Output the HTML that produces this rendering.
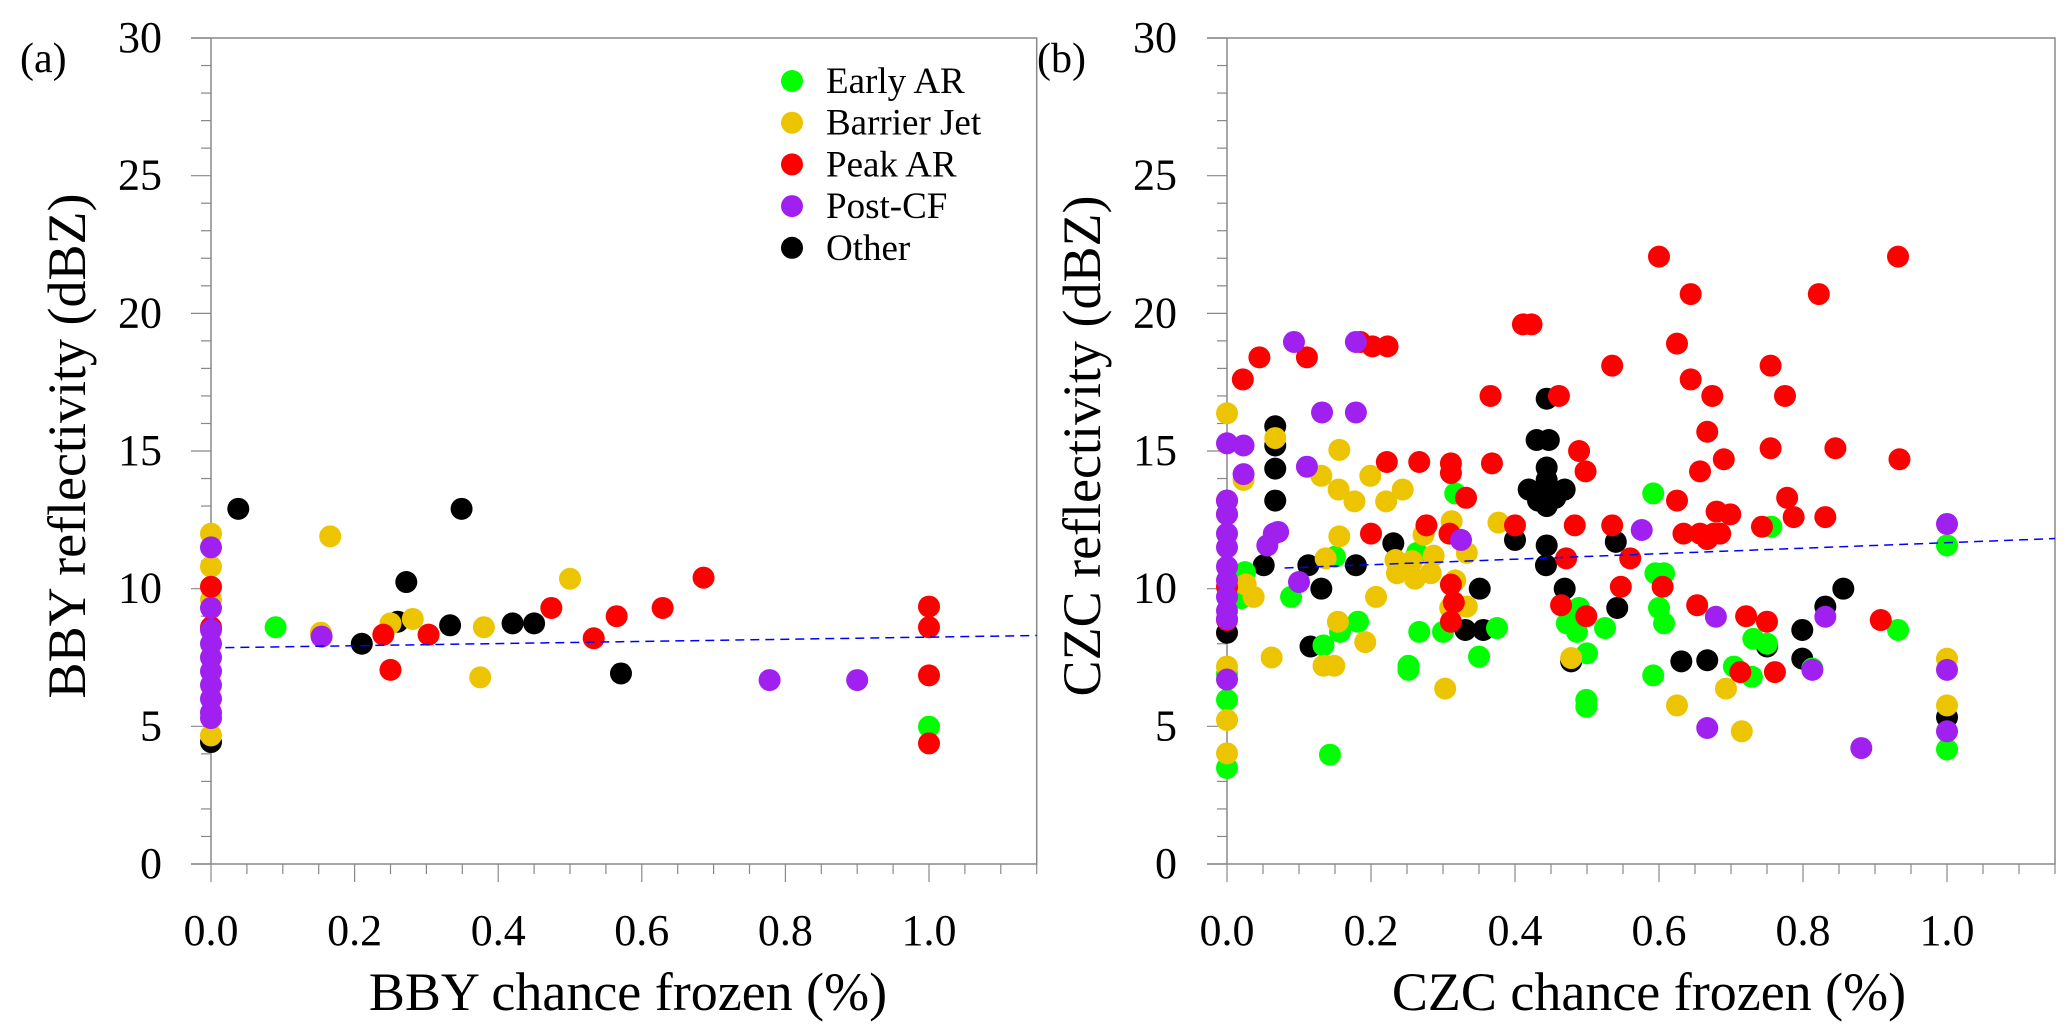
<!DOCTYPE html>
<html><head><meta charset="utf-8">
<style>
html,body{margin:0;padding:0;background:#fff;}
svg{display:block;font-family:"Liberation Serif",serif;}
</style></head>
<body>
<svg id="chart" width="2067" height="1035" viewBox="0 0 2067 1035" xmlns="http://www.w3.org/2000/svg"></svg>
<script>
// ---------- Panel (a) data: BBY ----------
const aEarlyX=[0.09,1.0];
const aEarlyY=[8.6,4.99];
const aBarrierX=[0.166,0.5,0.38,0.375,0.281,0.25,0.153,0,0,0,0];
const aBarrierY=[11.9,10.36,8.6,6.78,8.9,8.74,8.4,12.0,10.8,4.67,9.6];
const aPeakX=[0.24,0.25,0.303,0.474,0.533,0.565,0.629,0.686,1.0,1.0,1.0,1.0,0,0];
const aPeakY=[8.33,7.05,8.33,9.3,8.2,9.0,9.3,10.4,9.35,8.6,6.85,4.38,10.07,8.6];
const aPostX=[0.154,0.778,0.9,0,0,0,0,0,0,0,0,0,0];
const aPostY=[8.26,6.68,6.68,11.5,9.3,8.5,8.0,7.5,7.0,6.5,6.0,5.5,5.3];
const aOtherX=[0.038,0.349,0.272,0.21,0.333,0.42,0.45,0.571,0.26,0];
const aOtherY=[12.9,12.9,10.24,8.0,8.67,8.74,8.74,6.92,8.8,4.43];
const aFit=[7.85,0.39]; // intercept, slope

// ---------- Panel (b) data: CZC ----------
const bEarlyX=[0.592,0.317,0.756,1.0,0.264,0.025,0.595,0.607,0.089,0.02,0.15,0.6,0.607,0.182,0.157,0.267,0.3,0.375,0.472,0.489,0.486,0.525,0.932,0.731,0.75,0.134,0.35,0.252,0.252,0.5,0.704,0.729,0.592,0.813,0.499,0.499,0.143,1.0,0,0,0];
const bEarlyY=[13.46,13.46,12.25,11.57,11.3,10.6,10.56,10.56,9.7,9.66,11.16,9.3,8.74,8.8,8.43,8.43,8.43,8.57,8.74,9.3,8.43,8.57,8.5,8.18,8.0,7.94,7.53,7.2,7.05,7.65,7.17,6.8,6.85,7.1,5.96,5.71,3.97,4.16,3.49,5.96,6.9];
const bBarrierX=[0,0.067,0.156,0.131,0.199,0.155,0.244,0.177,0.221,0.023,0.377,0.312,0.273,0.156,0.333,0.287,0.137,0.234,0.257,0.236,0.261,0.283,0.317,0.026,0.037,0.207,0.31,0.333,0.154,0.192,0.062,0.134,0.149,0.478,0.303,0.693,0.625,0.715,1.0,1.0,0,0,0];
const bBarrierY=[16.37,15.47,15.04,14.1,14.1,13.6,13.6,13.17,13.17,13.95,12.4,12.45,11.96,11.9,11.3,11.2,11.1,11.04,11.0,10.56,10.36,10.56,10.3,10.15,9.7,9.7,9.3,9.35,8.8,8.06,7.5,7.2,7.2,7.48,6.37,6.37,5.76,4.82,7.46,5.76,5.23,4.02,7.17];
const bPeakX=[0.6,0.932,0.644,0.822,0.411,0.423,0.625,0.185,0.202,0.223,0.045,0.111,0.535,0.755,0.022,0.644,0.366,0.461,0.674,0.775,0.667,0.489,0.755,0.845,0.222,0.267,0.311,0.368,0.69,0.934,0.498,0.657,0.311,0.332,0.625,0.778,0.277,0.4,0.483,0.535,0.743,0.787,0.831,0.634,0.657,0.667,0.68,0.699,0.676,0.685,0.2,0.309,0.471,0.56,0.605,0.547,0.311,0.315,0.311,0.464,0.499,0.653,0.721,0.75,0.908,0.713,0.761,0,0,0,0];
const bPeakY=[22.06,22.06,20.7,20.7,19.6,19.6,18.9,18.96,18.8,18.8,18.4,18.4,18.1,18.1,17.6,17.6,17.0,17.0,17.0,17.0,15.7,15.0,15.1,15.1,14.6,14.6,14.55,14.55,14.7,14.7,14.26,14.26,14.2,13.3,13.2,13.3,12.3,12.3,12.3,12.3,12.25,12.6,12.6,12.0,12.0,11.8,12.8,12.7,12.0,12.0,12.0,12.0,11.1,11.1,10.07,10.07,10.15,9.5,8.8,9.4,9.0,9.4,9.0,8.8,8.86,6.97,6.97,13.2,12.7,10.07,8.86];
const bPostX=[0.093,0.179,0.132,0.179,0.023,0,0.023,0.111,0.071,0.065,0.056,0.325,0.576,0.1,1.0,0.679,0.831,0.813,1.0,0.667,0.881,1.0,0,0,0,0,0,0,0,0,0,0];
const bPostY=[18.96,18.96,16.4,16.4,15.2,15.28,14.16,14.43,12.06,12.0,11.57,11.77,12.13,10.24,12.35,8.98,8.98,7.05,7.05,4.94,4.21,4.82,13.2,12.7,12.0,11.5,10.8,10.3,9.7,9.2,8.9,6.7];
const bOtherX=[0.444,0.43,0.447,0.444,0.419,0.469,0.432,0.444,0.456,0.443,0.444,0.067,0.067,0.067,0.067,0.231,0.4,0.444,0.443,0.54,0.051,0.113,0.179,0.131,0.351,0.469,0.856,0.831,0.542,0.799,0.331,0.356,0.116,0.75,0.631,0.667,0.799,0.478,1.0,0];
const bOtherY=[16.9,15.4,15.4,14.4,13.6,13.6,13.2,13.0,13.3,13.5,13.95,15.9,15.2,14.36,13.2,11.65,11.77,11.57,10.85,11.7,10.85,10.85,10.85,10.0,10.0,10.0,10.0,9.35,9.3,8.5,8.5,8.5,7.9,7.9,7.36,7.4,7.46,7.36,5.33,8.4];
const bFit=[10.67,1.0];

const yTicks=[0,5,10,15,20,25,30];
const xTicks=[0,0.2,0.4,0.6,0.8,1.0];
const xTickLabels=["0.0","0.2","0.4","0.6","0.8","1.0"];
const legendNames=["Early AR","Barrier Jet","Peak AR","Post-CF","Other"];
const colors={early:"#00ff00",barrier:"#ecc500",peak:"#ff0000",post:"#a020f0",other:"#000000"};

const NS="http://www.w3.org/2000/svg";
const svg=document.getElementById('chart');
function mk(tag,attrs,parent){const e=document.createElementNS(NS,tag);for(const k in attrs)e.setAttribute(k,attrs[k]);(parent||svg).appendChild(e);return e;}

function panel(cfg){
  const g=mk('g',{});
  
  
  const X=v=>cfg.x0+v*cfg.xs, Y=v=>864-v*27.533;
  const xMax=1.15, left=cfg.x0-20, right=X(xMax);
  const frame=mk('path',{d:`M${left},${Y(30)}H${right}V${Y(0)}H${left}`,fill:'none',stroke:'#888','stroke-width':1.5},g);
  
  
  const yax=mk('line',{x1:X(0),y1:Y(0),x2:X(0),y2:Y(30),stroke:'#888','stroke-width':1.5},g);
  
  
  for(let v=0;v<=30;v++){const len=(v%5===0)?20:10;mk('line',{x1:X(0)-len,y1:Y(v),x2:X(0),y2:Y(v),stroke:'#888','stroke-width':1.2},g);}
  yTicks.forEach(v=>{const t=mk('text',{x:cfg.yLabX,y:Y(v)+14,'font-size':44,'text-anchor':'end',fill:'#000'},g);t.textContent=String(v);
    
    });
  for(let i=0;i<=23;i++){const v=i*0.05;const len=(i%4===0)?18:10;mk('line',{x1:X(v),y1:Y(0),x2:X(v),y2:Y(0)+len,stroke:'#888','stroke-width':1.2},g);}
  xTicks.forEach((v,i)=>{const t=mk('text',{x:X(v),y:945,'font-size':44,'text-anchor':'middle',fill:'#000'},g);t.textContent=xTickLabels[i];
    
    });
  const xt=mk('text',{x:cfg.xTitleX,y:1010,'font-size':54,'text-anchor':'middle',fill:'#000'},g);xt.textContent=cfg.xTitle;
  
  
  const yt=mk('text',{x:0,y:0,'font-size':54,'text-anchor':'middle',fill:'#000',transform:`translate(${cfg.yTitleX},446) rotate(-90)`},g);yt.textContent=cfg.yTitle;
  
  
  const pl=mk('text',{x:cfg.labelX,y:72,'font-size':42,fill:'#000'},g);pl.textContent=cfg.label;
  
  
  const series=[['other',cfg.other],['early',cfg.early],['barrier',cfg.barrier],['peak',cfg.peak],['post',cfg.post]];
  series.forEach(([k,[xs,ys]])=>{
    xs.forEach((xv,i)=>{const c=mk('circle',{cx:X(xv),cy:Y(ys[i]),r:11,fill:colors[k]},g);
      
      });
  });
  const fx0=cfg.fitStart;
  const fl=mk('line',{x1:X(fx0),y1:Y(cfg.fit[0]+cfg.fit[1]*fx0),x2:X(xMax),y2:Y(cfg.fit[0]+cfg.fit[1]*xMax),stroke:'#0000ff','stroke-width':1.5,'stroke-dasharray':'9,6'},g);
  
  
}

panel({name:'panel-a-bby',x0:211,xs:718,yLabX:162,xTitleX:628,yTitleX:85,labelX:20,label:'(a)',
  xTitle:'BBY chance frozen (%)',yTitle:'BBY reflectivity (dBZ)',fit:aFit,fitStart:0.02,
  early:[aEarlyX,aEarlyY],barrier:[aBarrierX,aBarrierY],peak:[aPeakX,aPeakY],post:[aPostX,aPostY],other:[aOtherX,aOtherY]});
panel({name:'panel-b-czc',x0:1227,xs:720,yLabX:1177,xTitleX:1649,yTitleX:1100,labelX:1037,label:'(b)',
  xTitle:'CZC chance frozen (%)',yTitle:'CZC reflectivity (dBZ)',fit:bFit,fitStart:0.08,
  early:[bEarlyX,bEarlyY],barrier:[bBarrierX,bBarrierY],peak:[bPeakX,bPeakY],post:[bPostX,bPostY],other:[bOtherX,bOtherY]});

const legKeys=['early','barrier','peak','post','other'];
const lg=mk('g',{});


legendNames.forEach((n,i)=>{
  const y=81+i*41.7;
  const c=mk('circle',{cx:792,cy:y,r:11,fill:colors[legKeys[i]]},lg);
  
  
  const t=mk('text',{x:826,y:y+12,'font-size':37,fill:'#000'},lg);t.textContent=n;
  
  
});
</script>
</body></html>
